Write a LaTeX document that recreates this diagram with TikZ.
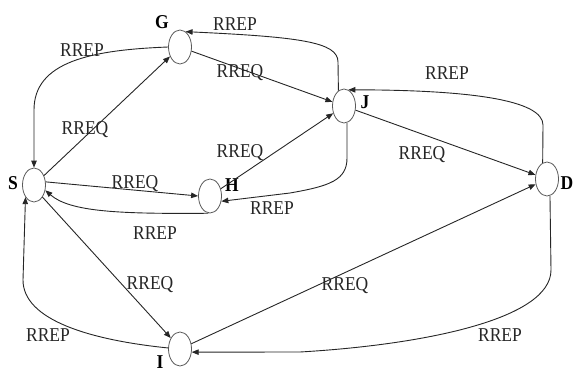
\documentclass[tikz,border=0pt]{standalone}
\usepackage{fontspec}
\setmainfont{Liberation Serif}
\usetikzlibrary{shapes.geometric,arrows.meta}
\newcommand\tallt[1]{\scalebox{1}[1.12]{#1}}
\begin{document}
\begin{tikzpicture}[x=1pt,y=-1pt,
  station/.style={draw=black!65,line width=0.8pt,ellipse,minimum width=23pt,minimum height=34pt,inner sep=0pt},
  letter/.style={font=\fontsize{17.5}{17.5}\selectfont\bfseries,inner sep=0pt},
  msg/.style={font=\fontsize{17.5}{17.5}\selectfont,inner sep=0pt,text=black!85},
  link/.style={draw=black!85,line width=0.9pt,-{Triangle[length=7pt,width=5.5pt]}}]
\useasboundingbox (0,0) rectangle (575,372);
% stations
\node[station] (S) at (34,185) {};
\node[station] (G) at (180,47) {};
\node[station] (H) at (210,196) {};
\node[station] (J) at (344,106) {};
\node[station] (D) at (547,179) {};
\node[station] (I) at (180,349) {};
% letters
\node[letter] (lS) at (13,183) {\tallt{S}};
\node[letter] (lG) at (162,22) {\tallt{G}};
\node[letter] (lH) at (232,185) {\tallt{H}};
\node[letter] (lJ) at (365,102) {\tallt{J}};
\node[letter] (lD) at (567,183) {\tallt{D}};
\node[letter] (lI) at (160,362) {\tallt{I}};
% waypoints
\coordinate (gs1) at (34,110);
\coordinate (jg1) at (338,62);
\coordinate (dj1) at (543,125);
\coordinate (jh1) at (347,158);
\coordinate (jh2) at (290,193);
\coordinate (is1) at (23,280);
\coordinate (di1) at (551,270);
\coordinate (di2) at (300,352);
% connectors
\draw[link] (G.west) .. controls (90,50) and (34,62) .. (gs1) -- (S.north);
\draw[link] (S) -- (G);
\draw[link] (G) -- (J);
\draw[link] (J.110) -- (jg1) .. controls (338,42) and (300,37) .. (G.70);
\draw[link] (D.105) -- (dj1) .. controls (543,100) and (470,90) .. (J.75);
\draw[link] (J) -- (D);
\draw[link] (S.15) -- (H.180);
\draw[link] (H.265) .. controls (120,214) and (70,212) .. (S.-25);
\draw[link] (H) -- (J);
\draw[link] (J.-80) -- (jh1) .. controls (347,180) and (330,186) .. (jh2) -- (H.-25);
\draw[link] (S.-55) -- (I.130);
\draw[link] (I.175) .. controls (90,340) and (23,320) .. (is1) -- (S.-125);
\draw[link] (I) -- (D);
\draw[link] (D.-80) -- (di1) .. controls (551,320) and (420,345) .. (di2) -- (I.-15);
% labels
\node[msg] (m1) at (82,50) {\tallt{RREP}};
\node[msg] (m2) at (85,130) {\tallt{RREQ}};
\node[msg] (m3) at (240,73) {\tallt{RREQ}};
\node[msg] (m4) at (235,24) {\tallt{RREP}};
\node[msg] (m5) at (447,73) {\tallt{RREP}};
\node[msg] (m6) at (422,155) {\tallt{RREQ}};
\node[msg] (m7) at (135,184) {\tallt{RREQ}};
\node[msg] (m8) at (155,233) {\tallt{RREP}};
\node[msg] (m9) at (240,153) {\tallt{RREQ}};
\node[msg] (m10) at (272,208) {\tallt{RREP}};
\node[msg] (m11) at (150,285) {\tallt{RREQ}};
\node[msg] (m12) at (48,335) {\tallt{RREP}};
\node[msg] (m13) at (345,286) {\tallt{RREQ}};
\node[msg] (m14) at (500,335) {\tallt{RREP}};
\end{tikzpicture}
\end{document}
